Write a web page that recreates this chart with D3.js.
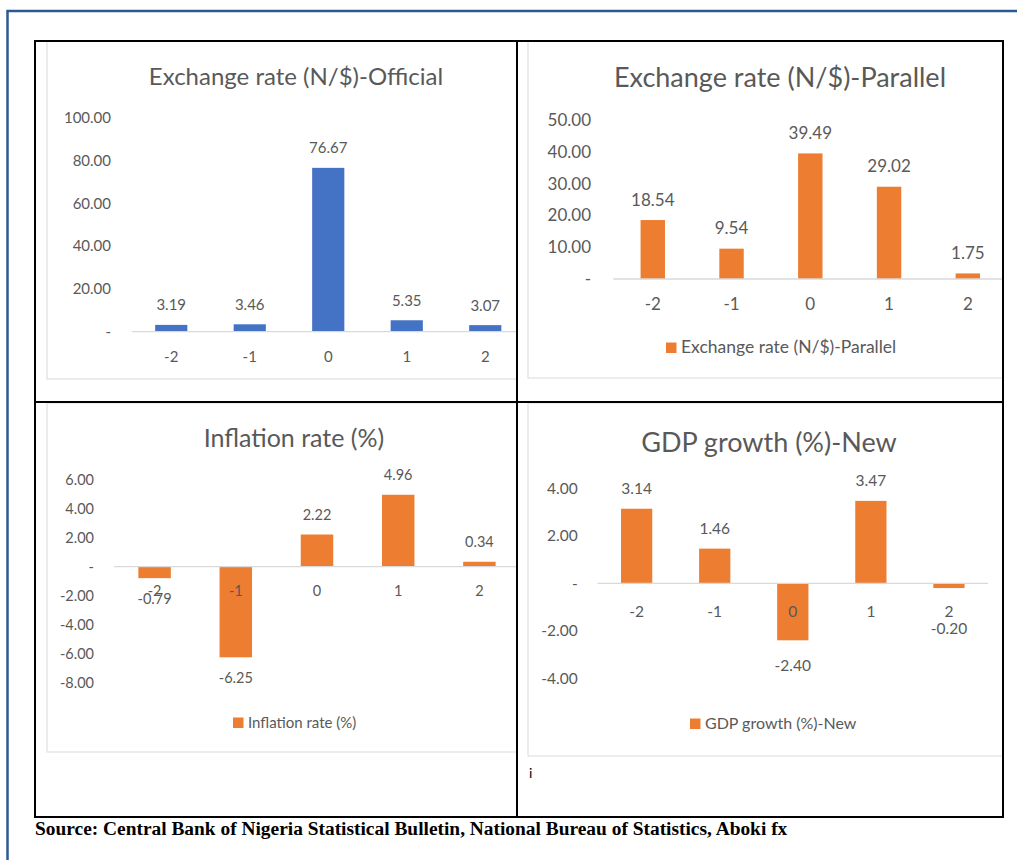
<!DOCTYPE html>
<html lang="en">
<head>
<meta charset="utf-8">
<title>Exchange rate, inflation and GDP growth</title>
<script src="https://cdn.jsdelivr.net/npm/d3@7"></script>
<style>
  body { margin: 0; background: #fff; }
  text { font-family: Lato, "Open Sans", sans-serif; fill: #595959; }
</style>
</head>
<body>
<svg width="1017" height="860"></svg>
<script>
// data
var periods = ["-2", "-1", "0", "1", "2"];
var officialRate = [3.19, 3.46, 76.67, 5.35, 3.07];
var parallelRate = [18.54, 9.54, 39.49, 29.02, 1.75];
var inflationRate = [-0.79, -6.25, 2.22, 4.96, 0.34];
var gdpGrowth = [3.14, 1.46, -2.40, 3.47, -0.20];

var officialTicks = [0, 20, 40, 60, 80, 100];
var parallelTicks = [0, 10, 20, 30, 40, 50];
var inflationTicks = [-8, -6, -4, -2, 0, 2, 4, 6];
var gdpTicks = [-4, -2, 0, 2, 4];

var titles = ["Exchange rate (N/$)-Official", "Exchange rate (N/$)-Parallel",
              "Inflation rate (%)", "GDP growth (%)-New"];
var sourceNote = "Source: Central Bank of Nigeria Statistical Bulletin, National Bureau of Statistics, Aboki fx";

var blue = "#4472c4", orange = "#ed7d31";

// panel layouts
var panels = [
  { values: officialRate, ticks: officialTicks, title: titles[0], color: blue, legend: false,
    box: [47, 41, 470, 338], xr: [132, 524.5], yd: [0, 100], yr: [331.7, 118], pad: 0.59,
    tickX: 111, fs: 15, titleX: 296, titleY: 85, titleFs: 24, xLabY: 362 },
  { values: parallelRate, ticks: parallelTicks, title: titles[1], color: orange, legend: true,
    box: [528, 41, 475, 337], xr: [613.4, 1007.2], yd: [0, 50], yr: [279, 120], pad: 0.69,
    tickX: 591, fs: 17, titleX: 780, titleY: 87, titleFs: 27, xLabY: 310, legX: 666, legY: 353 },
  { values: inflationRate, ticks: inflationTicks, title: titles[2], color: orange, legend: true,
    box: [47, 403, 470, 349], xr: [114, 520], yd: [-8, 6], yr: [682.7, 479.7], pad: 0.6,
    tickX: 94, fs: 14.5, titleX: 294, titleY: 447, titleFs: 25, xLabY: 596, legX: 233, legY: 728, negDrop: 26 },
  { values: gdpGrowth, ticks: gdpTicks, title: titles[3], color: orange, legend: true,
    box: [528, 403, 475, 353], xr: [597.6, 988], yd: [-4, 4], yr: [678.3, 488.3], pad: 0.6,
    tickX: 577.7, fs: 15.5, titleX: 769, titleY: 452, titleFs: 27, xLabY: 617, legX: 690, legY: 729, negDrop: 30.5, minDrop: 51 }
];

var svg = d3.select("svg");

// outer blue frame
svg.append("path")
    .attr("d", "M7.5,860V11H1017")
    .attr("fill", "none")
    .attr("stroke", "#2c5a93")
    .attr("stroke-width", 2.5);

function fmt(v) { return v === 0 ? "-" : v.toFixed(2); }

panels.forEach(function(p) {
  var g = svg.append("g");
  var boxRight = p.box[0] + p.box[2];

  g.append("rect")
      .attr("x", p.box[0]).attr("y", p.box[1])
      .attr("width", p.box[2]).attr("height", p.box[3])
      .attr("fill", "#fff").attr("stroke", "#d9d9d9");

  var x = d3.scaleBand()
      .domain(periods)
      .range(p.xr)
      .paddingInner(p.pad)
      .paddingOuter(p.pad / 2);

  var y = d3.scaleLinear()
      .domain(p.yd)
      .range(p.yr);

  var data = periods.map(function(k, i) { return { name: k, value: p.values[i] }; });

  // title
  g.append("text")
      .attr("x", p.titleX).attr("y", p.titleY)
      .attr("text-anchor", "middle")
      .style("font-size", p.titleFs + "px")
      .text(p.title);

  // y tick labels
  g.selectAll(".ytick")
      .data(p.ticks)
    .enter().append("text")
      .attr("class", "ytick")
      .attr("x", p.tickX)
      .attr("y", function(d) { return y(d); })
      .attr("dy", "0.35em")
      .attr("text-anchor", "end")
      .style("font-size", p.fs + "px")
      .text(fmt);

  // bars
  g.selectAll(".bar")
      .data(data)
    .enter().append("rect")
      .attr("class", "bar")
      .attr("x", function(d) { return x(d.name); })
      .attr("y", function(d) { return y(Math.max(0, d.value)); })
      .attr("width", x.bandwidth())
      .attr("height", function(d) { return Math.abs(y(d.value) - y(0)); })
      .attr("fill", p.color);

  // zero axis line
  g.append("line")
      .attr("x1", p.xr[0]).attr("x2", Math.min(p.xr[1], boxRight))
      .attr("y1", y(0)).attr("y2", y(0))
      .attr("stroke", "#d9d9d9")
      .attr("stroke-width", 1.3);

  // category labels
  g.selectAll(".xlab")
      .data(data)
    .enter().append("text")
      .attr("class", "xlab")
      .attr("x", function(d) { return x(d.name) + x.bandwidth() / 2; })
      .attr("y", p.xLabY)
      .attr("text-anchor", "middle")
      .style("font-size", p.fs + "px")
      .text(function(d) { return d.name; });

  // value labels
  g.selectAll(".vlab")
      .data(data)
    .enter().append("text")
      .attr("class", "vlab")
      .attr("x", function(d) { return x(d.name) + x.bandwidth() / 2; })
      .attr("y", function(d) {
        if (d.value >= 0) return y(d.value) - 14.5;
        var yy = y(d.value) + p.negDrop;
        if (p.minDrop) yy = Math.max(yy, y(0) + p.minDrop);
        return yy;
      })
      .attr("text-anchor", "middle")
      .style("font-size", p.fs + "px")
      .text(function(d) { return d.value.toFixed(2); });

  // legend
  if (p.legend) {
    g.append("rect")
        .attr("x", p.legX).attr("y", p.legY - 10.5)
        .attr("width", 10.5).attr("height", 10.5)
        .attr("fill", p.color);
    g.append("text")
        .attr("x", p.legX + 15).attr("y", p.legY)
        .style("font-size", (p.fs + 0.5) + "px")
        .text(p.title);
  }
});

// table grid
var grid = svg.append("g")
    .attr("fill", "none")
    .attr("stroke", "#000")
    .attr("stroke-width", 2);
grid.append("rect").attr("x", 35).attr("y", 41).attr("width", 968).attr("height", 776);
grid.append("line").attr("x1", 517).attr("x2", 517).attr("y1", 41).attr("y2", 817);
grid.append("line").attr("x1", 35).attr("x2", 1003).attr("y1", 402).attr("y2", 402);

// stray character in the lower right cell
svg.append("text")
    .attr("x", 529).attr("y", 778)
    .style("font-size", "14px")
    .style("fill", "#000")
    .text("i");

// source note
svg.append("text")
    .attr("x", 35).attr("y", 835)
    .style("font-family", "'Liberation Serif', 'Times New Roman', serif")
    .style("font-weight", "bold")
    .style("font-size", "19.4px")
    .style("fill", "#000")
    .text(sourceNote);
</script>
</body>
</html>
